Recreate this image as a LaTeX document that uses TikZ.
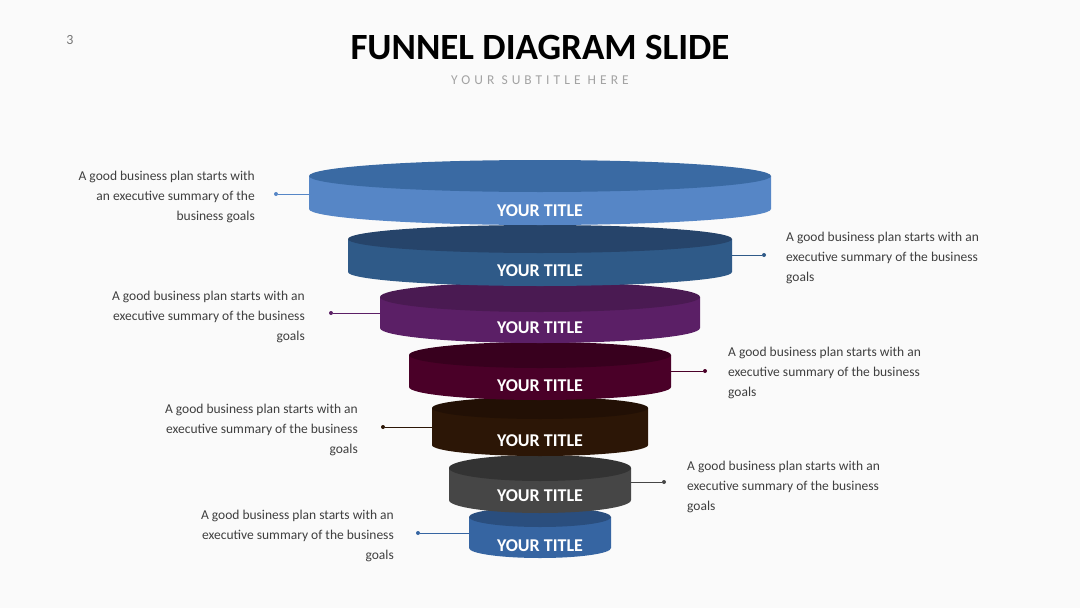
\documentclass[tikz,border=0pt]{standalone}
\usepackage{fontspec}
\setmainfont{Carlito}
\definecolor{bgcol}{HTML}{FAFAFA}
\definecolor{textgray}{HTML}{3F3F3F}
\definecolor{subgray}{HTML}{A3A3A3}
\definecolor{pagegray}{HTML}{767676}
% funnel colours: top face / side band
\definecolor{top1}{HTML}{3A6AA3}\definecolor{band1}{HTML}{5686C6}
\definecolor{top2}{HTML}{26446A}\definecolor{band2}{HTML}{2F5A88}
\definecolor{top3}{HTML}{4A1A52}\definecolor{band3}{HTML}{5B1F66}
\definecolor{top4}{HTML}{38001E}\definecolor{band4}{HTML}{4A0028}
\definecolor{top5}{HTML}{221005}\definecolor{band5}{HTML}{2C1606}
\definecolor{top6}{HTML}{333333}\definecolor{band6}{HTML}{464646}
\definecolor{top7}{HTML}{2A4E7E}\definecolor{band7}{HTML}{3665A2}
\begin{document}
\begin{tikzpicture}[x=1pt,y=-1pt,
    body/.style={font=\fontsize{13.5}{20}\selectfont, text=textgray, inner sep=0pt},
    lab/.style={font=\fontsize{18}{18}\selectfont\bfseries, text=white},
    dot/.style={circle, inner sep=0pt, minimum size=4pt},
    link/.style={line width=0.8pt}]
    % Background
    \fill[bgcol] (0,0) rectangle (1080,608);
    \useasboundingbox (0,0) rectangle (1080,608);

    % Heading
    \node[font=\fontsize{14}{14}\selectfont, text=pagegray] (page) at (70,40) {3};
    \node[font=\fontsize{37}{40}\selectfont\bfseries] (title) at (540,48) {FUNNEL DIAGRAM SLIDE};
    \node[font=\fontsize{13.5}{14}\selectfont\addfontfeature{LetterSpace=30}, text=subgray] (sub) at (540,80) {YOUR SUBTITLE HERE};

    % Connectors
    \foreach \i/\ex/\dx/\ly in {1/309/276/194, 2/732/764/255, 3/380/331/313, 4/671/705/371, 5/432/383/427, 6/631/664/482, 7/469/418/533} {
        \coordinate (e\i) at (\ex,\ly);
        \node[dot, fill=band\i] (d\i) at (\dx,\ly) {};
        \draw[link, band\i] (e\i) -- (d\i);
    }

    % Funnel discs, bottom one first
    \foreach \i/\rx/\cy/\ry/\cb/\ty in {7/71/517/10/548/546, 6/91/468/13/500/496, 5/108/408/11/445/441, 4/131/355/13/387/386, 3/160/297/15/328/328, 2/192/239/14/272/271, 1/231/176/16/209/211} {
        \fill[band\i] ({540-\rx},\cy) -- ({540-\rx},\cb) arc[start angle=180, end angle=0, x radius=\rx, y radius=\ry] -- ({540+\rx},\cy) -- cycle;
        \fill[top\i] (540,\cy) ellipse[x radius=\rx, y radius=\ry];
        \node[lab] (t\i) at (540,\ty) {YOUR TITLE};
    }

    % Descriptions
    \node[body, anchor=east, align=right] (n1) at (255,197) {A good business plan starts with\\an executive summary of the\\business goals};
    \node[body, anchor=west, align=left] (n2) at (786,258) {A good business plan starts with an\\executive summary of the business\\goals};
    \node[body, anchor=east, align=right] (n3) at (305,317) {A good business plan starts with an\\executive summary of the business\\goals};
    \node[body, anchor=west, align=left] (n4) at (728,373) {A good business plan starts with an\\executive summary of the business\\goals};
    \node[body, anchor=east, align=right] (n5) at (358,430) {A good business plan starts with an\\executive summary of the business\\goals};
    \node[body, anchor=west, align=left] (n6) at (687,487) {A good business plan starts with an\\executive summary of the business\\goals};
    \node[body, anchor=east, align=right] (n7) at (394,536) {A good business plan starts with an\\executive summary of the business\\goals};
\end{tikzpicture}
\end{document}
